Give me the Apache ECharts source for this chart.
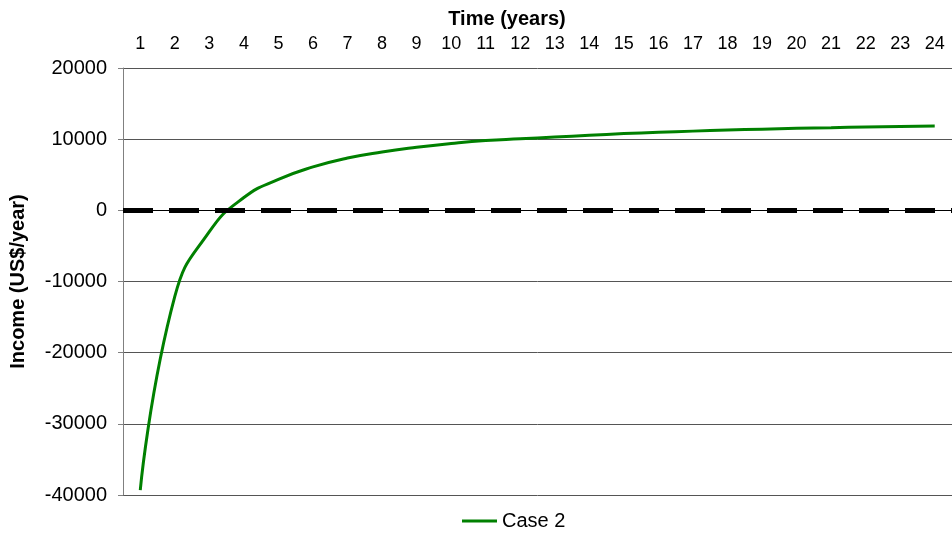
<!DOCTYPE html>
<html>
<head>
<meta charset="utf-8">
<script src="https://cdn.jsdelivr.net/npm/echarts@6/dist/echarts.min.js"></script>
<style>
html,body{margin:0;padding:0;background:#fff;}
#chart{width:952px;height:536px;}
</style>
</head>
<body>
<div id="chart"></div>
<script>
const years = ['1','2','3','4','5','6','7','8','9','10','11','12','13','14','15','16','17','18','19','20','21','22','23','24'];
const case2 = [-39300,-12100,-3000,1800,4350,6100,7350,8200,8850,9380,9800,10050,10300,10550,10780,10970,11130,11280,11410,11530,11620,11710,11790,11860];
const yTicks = {min:-40000, max:20000, interval:10000};
const zeroLevel = 0;

const FONT = 'Liberation Sans, Arial, sans-serif';
const chart = echarts.init(document.getElementById('chart'), null, {renderer:'canvas'});
chart.setOption({
  animation:false,
  backgroundColor:'#ffffff',
  textStyle:{fontFamily:FONT},
  title:{
    text:'Time (years)', left:507, top:9, padding:0, textAlign:'center',
    textStyle:{fontFamily:FONT, fontSize:20, fontWeight:'bold', color:'#000'}
  },
  legend:{
    data:['Case 2'], left:462, top:511, padding:0, icon:'rect', itemWidth:35, itemHeight:3, itemGap:6,
    textStyle:{fontFamily:FONT, fontSize:20, color:'#000'}
  },
  grid:{left:123, right:0, top:68, bottom:41, containLabel:false},
  xAxis:{
    type:'category', position:'top', data:years, boundaryGap:true,
    axisLine:{show:true, lineStyle:{color:'#000', width:1}},
    axisTick:{show:false},
    axisLabel:{fontFamily:FONT, fontSize:18, color:'#000', margin:15, interval:0},
    splitLine:{show:false}
  },
  yAxis:{
    type:'value', min:yTicks.min, max:yTicks.max, interval:yTicks.interval,
    name:'Income (US$/year)', nameLocation:'middle', nameGap:95, nameRotate:90,
    nameTextStyle:{fontFamily:FONT, fontSize:20, fontWeight:'bold', color:'#000'},
    axisLine:{show:true, lineStyle:{color:'#808080', width:1}},
    axisTick:{show:true, length:5, inside:false, lineStyle:{color:'#808080'}},
    axisLabel:{fontFamily:FONT, fontSize:20, color:'#000', margin:16, formatter:function(v){return String(v);}},
    splitLine:{show:true, lineStyle:{color:'#555', width:1}}
  },
  series:[{
    name:'Case 2', type:'line', data:case2, smooth:0.5, showSymbol:false, symbol:'none',
    lineStyle:{color:'#008000', width:3}, itemStyle:{color:'#008000'},
    markLine:{
      silent:true, symbol:['none','none'], label:{show:false},
      lineStyle:{color:'#000', width:5, type:[30,16]},
      data:[{yAxis:zeroLevel}]
    }
  }]
});
</script>
</body>
</html>
